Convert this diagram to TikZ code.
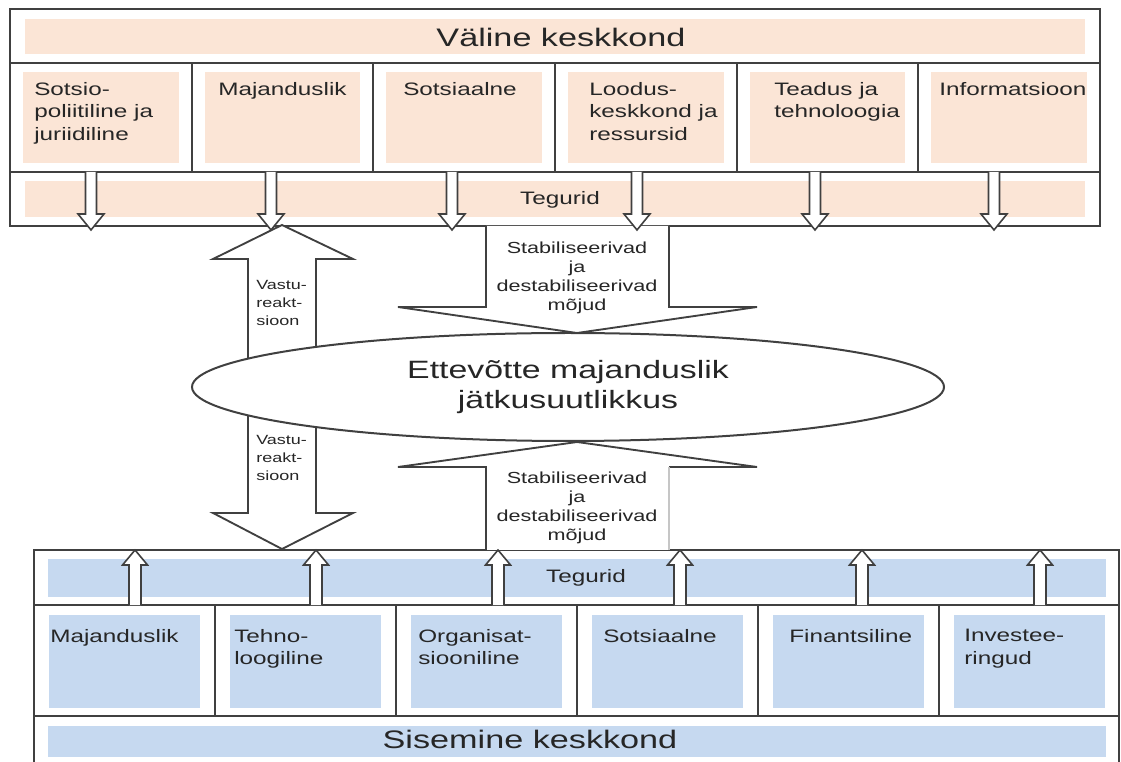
\documentclass[tikz,border=0pt]{standalone}
\usepackage{fontspec}
\setmainfont{Liberation Sans}[FakeStretch=1.35]
\usepackage{xcolor}
\usepackage{tikz}
\usetikzlibrary{shapes.geometric}
\definecolor{outpeach}{HTML}{FBE5D6}
\definecolor{inblue}{HTML}{C6D9F0}
\definecolor{edgegray}{HTML}{404040}
\definecolor{inkgray}{HTML}{262626}

\begin{document}
\begin{tikzpicture}[x=0.75pt, y=-0.75pt,
    every node/.style={inner sep=0pt, text=inkgray},
    frame/.style={draw=edgegray, line width=1.6pt},
    thinarrow/.style={draw=edgegray, line width=1.2pt, fill=white},
    bigarrow/.style={draw=edgegray, line width=1.4pt, fill=white},
    celltext/.style={anchor=north west, align=left, font=\fontsize{13.5}{17}\selectfont},
    stabtext/.style={anchor=north, align=center, font=\fontsize{12}{14.25}\selectfont},
    reacttext/.style={anchor=north west, align=left, font=\fontsize{10}{13.5}\selectfont},
    bandtext/.style={anchor=base, font=\fontsize{19}{23}\selectfont},
    factortext/.style={anchor=base, font=\fontsize{13.5}{17}\selectfont}]
    \useasboundingbox (0,0) rectangle (1121,762);

    \fill[outpeach] (25,19) rectangle (1085,54);
    \fill[outpeach] (25,181) rectangle (1085,217);
    \foreach \i in {0,...,5} {
        \fill[outpeach] (10+\i*181.67+13,72) rectangle (10+\i*181.67+168.67,163);
    }
    \draw[frame] (10,9) rectangle (1100,226);
    \draw[frame] (10,63) -- (1100,63);
    \draw[frame] (10,172) -- (1100,172);
    \foreach \i in {1,...,5} {
        \draw[frame] (10+\i*181.67,63) -- (10+\i*181.67,172);
    }

    \fill[inblue] (48,559) rectangle (1106,597);
    \fill[inblue] (48,726) rectangle (1106,757);
    \foreach \i in {0,...,5} {
        \fill[inblue] (34+\i*181+15,615) rectangle (34+\i*181+166,708);
    }
    \draw[frame] (34,762) -- (34,550) -- (1119,550) -- (1119,762);
    \draw[frame] (34,605) -- (1119,605);
    \draw[frame] (34,716) -- (1119,716);
    \foreach \i in {1,...,5} {
        \draw[frame] (34+\i*181,605) -- (34+\i*181,716);
    }

    \draw[bigarrow] (248,359) -- (248,259) -- (213,259) -- (282,225) -- (353,259) -- (316,259) -- (316,359);
    \draw[bigarrow] (248,415) -- (248,513) -- (213,513) -- (282,549) -- (353,513) -- (316,513) -- (316,415);
    \draw[bigarrow] (486,226) -- (486,307) -- (398,307) -- (577,333) -- (757,307) -- (669,307) -- (669,226);
    \fill[white] (486,550) -- (486,467) -- (398,467) -- (577,442) -- (757,467) -- (669,467) -- (669,550) -- cycle;
    \draw[bigarrow, fill=none] (486,550) -- (486,467) -- (398,467) -- (577,442) -- (757,467) -- (669,467);
    \draw[draw=gray!45, line width=1.4pt] (669,467) -- (669,550);

    \foreach \x in {91,271,452,637,815,994} {
        \draw[thinarrow] (\x-5.5,172) -- (\x-5.5,214) -- (\x-13,214) -- (\x,230) -- (\x+13,214) -- (\x+5.5,214) -- (\x+5.5,172);
    }
    \foreach \x in {135,316,498,680,862,1040} {
        \draw[thinarrow] (\x-6,605) -- (\x-6,565) -- (\x-12.5,565) -- (\x,550) -- (\x+12.5,565) -- (\x+6,565) -- (\x+6,605);
    }

    \node[ellipse, draw=edgegray, line width=1.5pt, fill=white, minimum width=564pt, minimum height=81pt,
          align=center, font=\fontsize{18.8}{23}\selectfont] (core) at (568,387) {Ettevõtte majanduslik\\jätkusuutlikkus};

    \node[bandtext] (ext-title) at (561,47) {Väline keskkond};
    \node[factortext] (ext-factors) at (560,205) {Tegurid};
    \foreach \i/\tx/\b in {0/34/{Sotsio-\\poliitiline ja\\juriidiline}, 1/218/Majanduslik, 2/403/Sotsiaalne,
                           3/589/{Loodus-\\keskkond ja\\ressursid}, 4/774/{Teadus ja\\tehnoloogia}, 5/939/Informatsioon} {
        \node[celltext] (ext-\i) at (\tx,82) {\b};
    }

    \node[bandtext] (int-title) at (530,748) {Sisemine keskkond};
    \node[factortext] (int-factors) at (586,582) {Tegurid};
    \foreach \i/\tx/\b in {0/50/Majanduslik, 1/234/{Tehno-\\loogiline}, 2/418/{Organisat-\\siooniline},
                           3/603/Sotsiaalne, 4/789/Finantsiline, 5/964/{Investee-\\ringud}} {
        \node[celltext] (int-\i) at (\tx,629) {\b};
    }

    \node[stabtext] (stab-out) at (577,242) {Stabiliseerivad\\ja\\destabiliseerivad\\mõjud};
    \node[stabtext] (stab-in) at (577,472) {Stabiliseerivad\\ja\\destabiliseerivad\\mõjud};
    \node[reacttext] (react-out) at (256,280) {Vastu-\\reakt-\\sioon};
    \node[reacttext] (react-in) at (256,435) {Vastu-\\reakt-\\sioon};
\end{tikzpicture}
\end{document}
